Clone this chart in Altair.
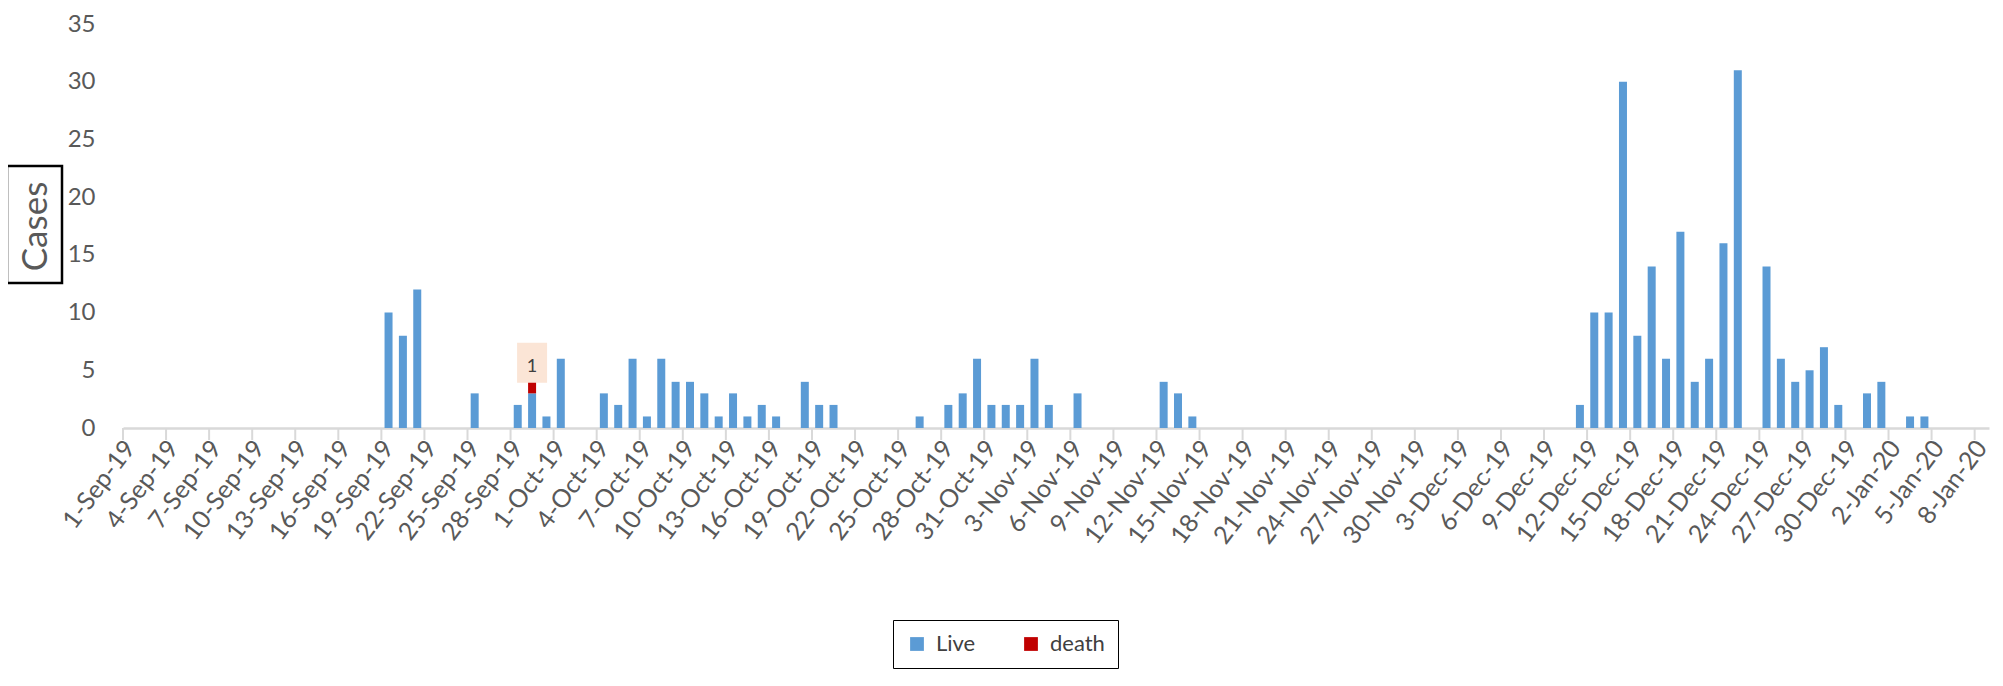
import altair as alt
import pandas as pd

# ---- data ----
all_dates = pd.date_range("2019-09-01", "2020-01-08", freq="D")
date_labels = [f"{d.day}-{d.strftime('%b-%y')}" for d in all_dates]

live_dates = [
    "19-Sep-19", "20-Sep-19", "21-Sep-19", "25-Sep-19", "28-Sep-19", "29-Sep-19",
    "30-Sep-19", "1-Oct-19", "4-Oct-19", "5-Oct-19", "6-Oct-19", "7-Oct-19",
    "8-Oct-19", "9-Oct-19", "10-Oct-19", "11-Oct-19", "12-Oct-19", "13-Oct-19",
    "14-Oct-19", "15-Oct-19", "16-Oct-19", "18-Oct-19", "19-Oct-19", "20-Oct-19",
    "26-Oct-19", "28-Oct-19", "29-Oct-19", "30-Oct-19", "31-Oct-19", "1-Nov-19",
    "2-Nov-19", "3-Nov-19", "4-Nov-19", "6-Nov-19", "12-Nov-19", "13-Nov-19",
    "14-Nov-19", "11-Dec-19", "12-Dec-19", "13-Dec-19", "14-Dec-19", "15-Dec-19",
    "16-Dec-19", "17-Dec-19", "18-Dec-19", "19-Dec-19", "20-Dec-19", "21-Dec-19",
    "22-Dec-19", "24-Dec-19", "25-Dec-19", "26-Dec-19", "27-Dec-19", "28-Dec-19",
    "29-Dec-19", "31-Dec-19", "1-Jan-20", "3-Jan-20", "4-Jan-20",
]
live_values = [
    10, 8, 12, 3, 2, 3,
    1, 6, 3, 2, 6, 1,
    6, 4, 4, 3, 1, 3,
    1, 2, 1, 4, 2, 2,
    1, 2, 3, 6, 2, 2,
    2, 6, 2, 3, 4, 3,
    1, 2, 10, 10, 30, 8,
    14, 6, 17, 4, 6, 16,
    31, 14, 6, 4, 5, 7,
    2, 3, 4, 1, 1,
]
death_dates = ["29-Sep-19"]
death_values = [1]

series_names = ["Live", "death"]
series_colors = ["#5B9BD5", "#C00000"]
y_ticks = [0, 5, 10, 15, 20, 25, 30, 35]
tick_label_dates = date_labels[::3]

# ---- tables ----
live_map = dict(zip(live_dates, live_values))
death_map = dict(zip(death_dates, death_values))
rows = []
for lab in date_labels:
    if lab in live_map:
        rows.append({"date": lab, "series": "Live", "value": live_map[lab], "ord": 0})
    if lab in death_map:
        rows.append({"date": lab, "series": "death", "value": death_map[lab], "ord": 1})
df = pd.DataFrame(rows)

lab_df = pd.DataFrame({
    "date": death_dates,
    "value": death_values,
    "total": [live_map.get(d, 0) + v for d, v in zip(death_dates, death_values)],
})
tick_df = pd.DataFrame({"date": tick_label_dates})

FONT = "Lato"
W, H = 1866, 404
TOP = 16

xscale = alt.Scale(domain=date_labels, paddingInner=0, paddingOuter=0)

bars = alt.Chart(df).mark_bar(size=8).encode(
    x=alt.X("date:O", sort=date_labels, scale=xscale, title=None,
            axis=alt.Axis(values=tick_label_dates, labelAngle=-53, labelAlign="right",
                          labelBaseline="middle", ticks=False, labelPadding=15,
                          labelFontSize=25, labelColor="#595959", labelFont=FONT,
                          domainColor="#D9D9D9", domainWidth=2.5, grid=False)),
    y=alt.Y("value:Q", stack="zero", scale=alt.Scale(domain=[0, 35], nice=False),
            axis=alt.Axis(values=y_ticks, domain=False, ticks=False, grid=False,
                          labelPadding=28, labelFontSize=24, labelColor="#595959",
                          labelFont=FONT, title="Cases", titleFontSize=35,
                          titleFont=FONT, titleColor="#595959", titleFontWeight="normal",
                          titleX=-88, titleY=H / 2, titleAlign="center",
                          titleBaseline="middle", titleAngle=-90)),
    color=alt.Color("series:N", scale=alt.Scale(domain=series_names, range=series_colors),
                    legend=alt.Legend(title=None, orient="none", legendX=770, legendY=596,
                                      direction="horizontal", strokeColor="#000000",
                                      padding=13, symbolType="square", symbolSize=190,
                                      labelFontSize=22, labelFont=FONT, labelColor="#404040",
                                      columnPadding=44, labelOffset=8)),
    order=alt.Order("ord:Q"),
)

ticks = alt.Chart(tick_df).mark_rule(color="#D9D9D9", strokeWidth=2).encode(
    x=alt.X("date:O", sort=date_labels, scale=xscale, bandPosition=0),
    y=alt.value(H),
    y2=alt.value(H + 12),
)

label_box = alt.Chart(lab_df).mark_point(
    shape="M-0.75,-1L0.75,-1L0.75,1L-0.75,1Z", size=1600, filled=True,
    color="#FBE5D6", opacity=1, yOffset=-19,
).encode(
    x=alt.X("date:O", sort=date_labels, scale=xscale),
    y=alt.Y("total:Q"),
)
label_text = alt.Chart(lab_df).mark_text(
    fontSize=18, font=FONT, color="#404040", yOffset=-15,
).encode(
    x=alt.X("date:O", sort=date_labels, scale=xscale),
    y=alt.Y("total:Q"),
    text=alt.Text("value:Q"),
)

title_box = alt.Chart(pd.DataFrame({"k": [0]})).mark_rect(
    fillOpacity=0, stroke="#000000", strokeWidth=2.5,
).encode(
    x=alt.value(-116), x2=alt.value(-61), y=alt.value(142), y2=alt.value(259),
)

chart = alt.layer(bars, ticks, label_box, label_text, title_box).properties(
    width=W, height=H,
    autosize=alt.AutoSizeParams(type="none"),
    padding={"left": 115, "top": TOP, "right": 2, "bottom": 242},
    background="white",
).configure_view(stroke=None)

chart.save("out.html", embed_options={"renderer": "svg", "actions": False})
